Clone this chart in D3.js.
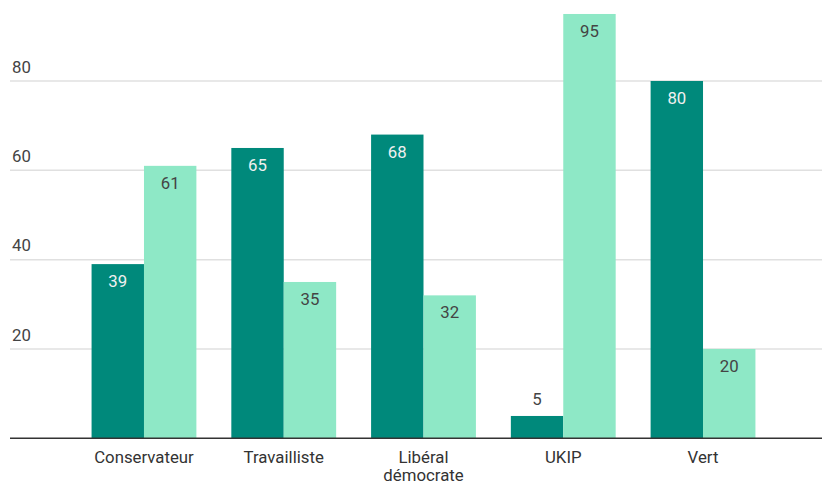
<!DOCTYPE html>
<html><head><meta charset="utf-8">
<script src="https://cdn.jsdelivr.net/npm/d3@7"></script>
<style>body{margin:0;background:#fff}svg{display:block;font-family:Roboto,"Noto Sans",sans-serif}</style>
</head><body><svg id="c" width="823" height="485"></svg>
<script>
const categories = [["Conservateur"],["Travailliste"],["Libéral","démocrate"],["UKIP"],["Vert"]];
const seriesA = [39, 65, 68, 5, 80];
const seriesB = [61, 35, 32, 95, 20];
const yTicks = [20, 40, 60, 80];

const svg = d3.select("#c");
const left = 10, right = 822, y0 = 438.3;
const FS = 16.8;
const y = d3.scaleLinear().domain([0, 20]).range([y0, y0 - 89.33]);
const x = d3.scaleBand().domain(d3.range(categories.length)).range([74.1, 772.9]).paddingInner(0.25).paddingOuter(0.125);
const xs = d3.scaleBand().domain([0,1]).range([0, x.bandwidth()]);
const colors = ["#00897B", "#8EE8C6"];
const labelColors = ["#F0F0F0", "#444444"];

svg.append("g").selectAll("line").data(yTicks).join("line")
  .attr("x1", left).attr("x2", right)
  .attr("y1", d => y(d)).attr("y2", d => y(d))
  .attr("stroke", "#E0E0E0").attr("stroke-width", 1.5);
svg.append("g").selectAll("text").data(yTicks).join("text")
  .attr("x", 12).attr("y", d => y(d) - 8.3)
  .attr("fill", "#444").attr("font-size", FS).text(d => d);

const data = [];
categories.forEach((c, i) => {
  data.push({i, s:0, v: seriesA[i]});
  data.push({i, s:1, v: seriesB[i]});
});

svg.append("g").selectAll("rect").data(data).join("rect")
  .attr("x", d => x(d.i) + xs(d.s))
  .attr("width", xs.bandwidth())
  .attr("y", d => y(d.v))
  .attr("height", d => y0 - y(d.v))
  .attr("fill", d => colors[d.s]);

svg.append("g").selectAll("text").data(data).join("text")
  .attr("x", d => x(d.i) + xs(d.s) + xs.bandwidth()/2)
  .attr("y", d => (y0 - y(d.v)) > 30 ? y(d.v) + 23 : y(d.v) - 10.7)
  .attr("text-anchor", "middle").attr("font-size", FS)
  .attr("fill", d => (y0 - y(d.v)) > 30 ? labelColors[d.s] : "#444")
  .text(d => d.v);

svg.append("line").attr("x1", left).attr("x2", right).attr("y1", y0).attr("y2", y0)
  .attr("stroke", "#333").attr("stroke-width", 1.5);

const cl = svg.append("g").selectAll("text").data(categories).join("text")
  .attr("x", (d, i) => x(i) + x.bandwidth()/2)
  .attr("y", 462.5)
  .attr("text-anchor", "middle").attr("font-size", FS).attr("fill", "#333");
cl.selectAll("tspan").data(d => d).join("tspan")
  .attr("x", function(){ return this.parentNode.getAttribute("x"); })
  .attr("dy", (d, j) => j === 0 ? 0 : 18.5)
  .text(d => d);
</script></body></html>
